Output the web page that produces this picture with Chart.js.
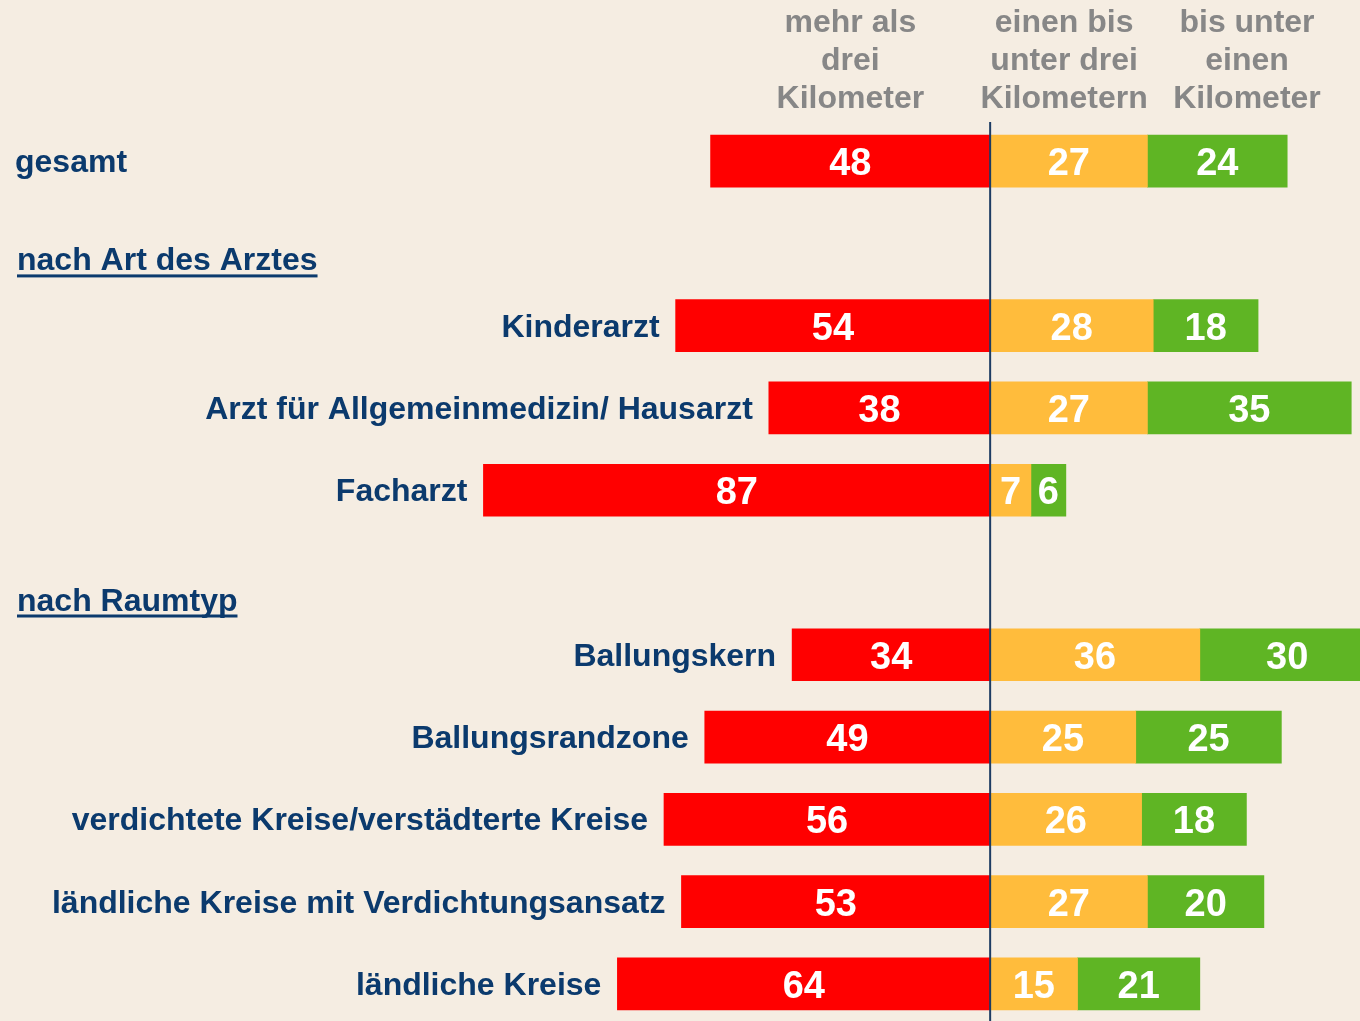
<!DOCTYPE html>
<html>
<head>
<meta charset="utf-8">
<script src="https://cdn.jsdelivr.net/npm/chart.js@4"></script>
<style>
  html, body { margin: 0; padding: 0; background: #f5ede2; overflow: hidden; }
  #wrap { width: 1360px; height: 1025px; position: relative; }
</style>
</head>
<body>
<div id="wrap"><canvas id="distChart"></canvas></div>
<script>
// rows (empty-value rows carry the section headings)
const rowLabels = [
  'gesamt',
  'nach Art des Arztes',
  'Kinderarzt',
  'Arzt für Allgemeinmedizin/ Hausarzt',
  'Facharzt',
  'nach Raumtyp',
  'Ballungskern',
  'Ballungsrandzone',
  'verdichtete Kreise/verstädterte Kreise',
  'ländliche Kreise mit Verdichtungsansatz',
  'ländliche Kreise'
];
const headingRows = [1, 5];

const seriesNames = [
  ['mehr als', 'drei', 'Kilometer'],
  ['einen bis', 'unter drei', 'Kilometern'],
  ['bis unter', 'einen', 'Kilometer']
];

const moreThanThree = [48, null, 54, 38, 87, null, 34, 49, 56, 53, 64];
const oneToThree    = [27, null, 28, 27, 7, null, 36, 25, 26, 27, 15];
const underOne      = [24, null, 18, 35, 6, null, 30, 25, 18, 20, 21];

const NAVY = '#0b3a6d';
const GREY = '#878787';
const FONT = '"Liberation Sans", Arial, sans-serif';

const overlay = {
  id: 'overlay',
  afterDatasetsDraw(chart) {
    const ctx = chart.ctx;
    const x = chart.scales.x;
    const y = chart.scales.y;
    const area = chart.chartArea;
    const zero = x.getPixelForValue(0);

    // centre line
    ctx.save();
    ctx.strokeStyle = '#1d3c63';
    ctx.lineWidth = 2;
    ctx.beginPath();
    ctx.moveTo(zero, area.top + 2);
    ctx.lineTo(zero, chart.height);
    ctx.stroke();

    // column headings
    const headAt = [-24, 12.7, 44.1];
    ctx.fillStyle = GREY;
    ctx.font = 'bold 32px ' + FONT;
    ctx.textAlign = 'center';
    ctx.textBaseline = 'alphabetic';
    seriesNames.forEach((lines, i) => {
      const cx = x.getPixelForValue(headAt[i]);
      lines.forEach((t, k) => ctx.fillText(t, cx, 32 + k * 38));
    });

    // row labels
    ctx.font = 'bold 32px ' + FONT;
    ctx.fillStyle = NAVY;
    rowLabels.forEach((label, i) => {
      const cy = y.getPixelForValue(i);
      if (i === 0) {
        ctx.textAlign = 'left';
        ctx.fillText(label, 15, cy + 11);
      } else if (headingRows.includes(i)) {
        const shift = i === 1 ? 16 : 27;
        ctx.textAlign = 'left';
        const by = cy + shift + 11;
        ctx.fillText(label, 17, by);
        const w = ctx.measureText(label).width;
        ctx.fillRect(17, by + 4, w, 3);
      } else {
        ctx.textAlign = 'right';
        const left = x.getPixelForValue(-moreThanThree[i]);
        ctx.fillText(label, left - 16, cy + 11);
      }
    });

    // values inside the segments
    ctx.font = 'bold 38px ' + FONT;
    ctx.fillStyle = '#ffffff';
    ctx.textAlign = 'center';
    chart.data.datasets.forEach((ds, di) => {
      chart.getDatasetMeta(di).data.forEach((bar, j) => {
        const v = ds.data[j];
        if (v === null || v === undefined) return;
        const p = bar.getProps(['x', 'y', 'base'], true);
        ctx.fillText(String(Math.abs(v)), (p.x + p.base) / 2, p.y + 14);
      });
    });
    ctx.restore();
  }
};

new Chart(document.getElementById('distChart'), {
  type: 'bar',
  data: {
    labels: rowLabels,
    datasets: [
      { label: seriesNames[0].join(' '), data: moreThanThree.map(v => v === null ? null : -v), backgroundColor: '#ff0000' },
      { label: seriesNames[1].join(' '), data: oneToThree, backgroundColor: '#ffbc3c' },
      { label: seriesNames[2].join(' '), data: underOne, backgroundColor: '#5fb524' }
    ]
  },
  options: {
    indexAxis: 'y',
    responsive: true,
    maintainAspectRatio: false,
    animation: false,
    layout: { padding: { top: 120, left: 0, right: 0, bottom: 0 } },
    datasets: { bar: { barThickness: 52, borderWidth: 0 } },
    scales: {
      x: { type: 'linear', stacked: true, min: -170, max: 63.5, display: false },
      y: { stacked: true, display: false }
    },
    plugins: {
      legend: { display: false },
      tooltip: { enabled: false }
    }
  },
  plugins: [overlay]
});
</script>
</body>
</html>
